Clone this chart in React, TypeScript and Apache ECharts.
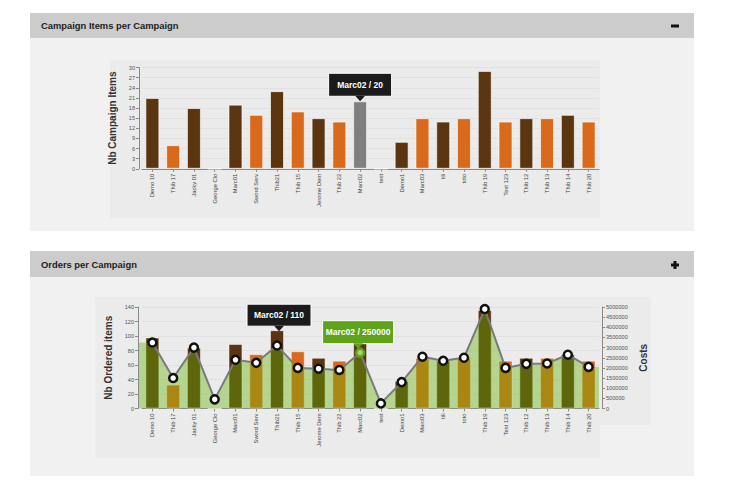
import React, { useEffect, useRef } from "react";
import * as echarts from "echarts";

const categories = [
  "Demo 10", "Thib 17", "Jacky 01", "George Clo", "Marc01", "Sword Serv", "Thib21",
  "Thib 15", "Jerome Dem", "Thib 22", "Marc02", "test", "Demo1", "Marc03", "tili",
  "toto", "Thib 19", "Test 123", "Thib 12", "Thib 13", "Thib 14", "Thib 20",
];
const campaignItems = [21, 7, 18, 0, 19, 16, 23, 17, 15, 14, 20, 0, 8, 15, 14, 15, 29, 14, 15, 15, 16, 14];
const orderedItems = [98, 33, 84, 0, 89, 75, 108, 79, 70, 66, 110, 0, 38, 70, 66, 70, 136, 66, 70, 70, 75, 66];
const costs = [
  3250000, 1500000, 3000000, 450000, 2400000, 2250000, 3100000, 2000000, 1960000, 1900000,
  2750000, 250000, 1300000, 2550000, 2350000, 2500000, 4900000, 2000000, 2200000, 2220000,
  2650000, 2050000,
];
const itemsAxis = { min: 0, max: 30, interval: 3 };
const ordersAxis = { min: 0, max: 140, interval: 20 };
const costsAxis = { min: 0, max: 5000000, interval: 500000 };
const panelTitles = ["Campaign Items per Campaign", "Orders per Campaign"];
const axisNames = ["Nb Campaign Items", "Nb Ordered items", "Costs"];
const highlighted = "Marc02";
const tooltipTop = "Marc02 / 20";
const tooltipOrders = "Marc02 / 110";
const tooltipOrdersAnchor = "Thib21";
const tooltipCost = "Marc02 / 250000";

const DARK = "#5b3510";
const ORANGE = "#d96a1b";
const FONT = "'Liberation Sans', Arial, Helvetica, sans-serif";

function barColor(i: number) {
  return i % 2 === 0 ? DARK : ORANGE;
}

const axisLine = { show: true, lineStyle: { color: "#8a8a8a", width: 1 } };
const xLabel = { rotate: 90, fontSize: 5.8, color: "#444", fontFamily: FONT, margin: 5, interval: 0 };
const yLabel = { fontSize: 5.6, color: "#555", fontFamily: FONT, margin: 4, formatter: (v: number) => String(v) };
const nameStyle = { fontSize: 10, fontWeight: "bold" as const, color: "#333", fontFamily: FONT };
const split = { show: true, lineStyle: { color: "#e1e1e1", width: 1 } };

// area under the cost line, held flat out to the plot's edges
const areaHalfBand = 0.5;
const areaLeftPad = 0.645;
const areaData: number[][] = [
  [-areaLeftPad, costs[0]],
  ...costs.map((v, i) => [i, v]),
  [costs.length - 1 + areaHalfBand, costs[costs.length - 1]],
];

function tooltipGroup(cx: number, tipY: number, w: number, h: number, fill: string, text: string) {
  const bottom = tipY - 5;
  const top = bottom - h;
  return {
    type: "group",
    z: 100,
    children: [
      {
        type: "rect",
        z: 100,
        shape: { x: cx - w / 2, y: top, width: w, height: h },
        style: { fill, stroke: "#ffffff", lineWidth: 1 },
      },
      {
        type: "polygon",
        z: 101,
        shape: { points: [[cx - 5, bottom - 0.5], [cx + 5, bottom - 0.5], [cx, tipY]] },
        style: { fill },
      },
      {
        type: "text",
        z: 102,
        x: cx,
        y: top + h / 2,
        style: {
          text,
          fill: "#ffffff",
          fontSize: 8.5,
          fontWeight: "bold",
          fontFamily: FONT,
          align: "center",
          verticalAlign: "middle",
        },
      },
    ],
  };
}

export default function App() {
  const ref = useRef<HTMLDivElement>(null);

  useEffect(() => {
    document.body.style.margin = "0";
    if (!ref.current) return;
    const chart = echarts.init(ref.current, null, { renderer: "svg" });

    const backgrounds: any[] = [
      { type: "rect", z: -10, shape: { x: 30, y: 13, width: 664, height: 25 }, style: { fill: "#cccccc" } },
      { type: "rect", z: -10, shape: { x: 30, y: 38, width: 664, height: 193 }, style: { fill: "#f1f1f1" } },
      { type: "rect", z: -9, shape: { x: 110, y: 60, width: 490, height: 158 }, style: { fill: "#ebebeb" } },
      { type: "rect", z: -10, shape: { x: 30, y: 251, width: 664, height: 26 }, style: { fill: "#cccccc" } },
      { type: "rect", z: -10, shape: { x: 30, y: 277, width: 664, height: 199 }, style: { fill: "#f1f1f1" } },
      { type: "rect", z: -9, shape: { x: 95, y: 297, width: 505, height: 161 }, style: { fill: "#ebebeb" } },
      { type: "rect", z: -9, shape: { x: 598, y: 297, width: 53, height: 128 }, style: { fill: "#ebebeb" } },
      {
        type: "text", z: 5, x: 41, y: 25.5,
        style: { text: panelTitles[0], fill: "#222", fontSize: 9.4, fontWeight: "bold", fontFamily: FONT, verticalAlign: "middle" },
      },
      {
        type: "text", z: 5, x: 41, y: 264.5,
        style: { text: panelTitles[1], fill: "#222", fontSize: 9.4, fontWeight: "bold", fontFamily: FONT, verticalAlign: "middle" },
      },
      { type: "rect", z: 5, shape: { x: 671, y: 24.5, width: 8, height: 3 }, style: { fill: "#111" } },
      { type: "rect", z: 5, shape: { x: 671, y: 263.5, width: 8, height: 3 }, style: { fill: "#111" } },
      { type: "rect", z: 5, shape: { x: 673.5, y: 261, width: 3, height: 8 }, style: { fill: "#111" } },
    ];

    const option: any = {
      animation: false,
      backgroundColor: "transparent",
      textStyle: { fontFamily: FONT },
      grid: [
        { left: 142, right: 131, top: 67.5, height: 101.3 },
        { left: 142, right: 131, top: 307, height: 101.5 },
        { left: 139, right: 131, top: 307, height: 101.5 },
      ],
      xAxis: [
        {
          type: "category", gridIndex: 0, data: categories, boundaryGap: true,
          axisLine, axisTick: { show: true, alignWithLabel: true, length: 3, lineStyle: { color: "#8a8a8a" } },
          axisLabel: xLabel,
        },
        {
          type: "category", gridIndex: 1, data: categories, boundaryGap: true,
          axisLine, axisTick: { show: true, alignWithLabel: true, length: 3, lineStyle: { color: "#8a8a8a" } },
          axisLabel: xLabel,
        },
        {
          type: "value", gridIndex: 2, show: false,
          min: -areaLeftPad, max: costs.length - 1 + areaHalfBand,
          splitLine: { show: false },
        },
      ],
      yAxis: [
        {
          type: "value", gridIndex: 0, ...itemsAxis, offset: 3,
          axisLine, axisTick: { show: true, length: 3, lineStyle: { color: "#8a8a8a" } },
          axisLabel: yLabel, splitLine: split,
          name: axisNames[0], nameLocation: "middle", nameGap: 19, nameRotate: 90, nameTextStyle: nameStyle,
        },
        {
          type: "value", gridIndex: 1, ...ordersAxis, offset: 4,
          axisLine, axisTick: { show: true, length: 3, lineStyle: { color: "#8a8a8a" } },
          axisLabel: yLabel, splitLine: split,
          name: axisNames[1], nameLocation: "middle", nameGap: 22, nameRotate: 90, nameTextStyle: nameStyle,
        },
        {
          type: "value", gridIndex: 1, position: "right", ...costsAxis, offset: 3,
          axisLine, axisTick: { show: true, length: 3, lineStyle: { color: "#8a8a8a" } },
          axisLabel: yLabel, splitLine: { show: false },
          name: axisNames[2], nameLocation: "middle", nameGap: 30, nameRotate: 90, nameTextStyle: nameStyle,
        },
        { type: "value", gridIndex: 2, ...costsAxis, show: false, splitLine: { show: false } },
      ],
      series: [
        {
          type: "bar", xAxisIndex: 0, yAxisIndex: 0, barWidth: 14, z: 2,
          itemStyle: { borderColor: "rgba(255,255,255,0.65)", borderWidth: 1 },
          data: campaignItems.map((v, i) => ({
            value: v,
            itemStyle: { color: categories[i] === highlighted ? "#7f7f7f" : barColor(i) },
          })),
        },
        {
          type: "bar", xAxisIndex: 1, yAxisIndex: 1, barWidth: 14, z: 2,
          itemStyle: { borderColor: "rgba(255,255,255,0.5)", borderWidth: 1 },
          data: orderedItems.map((v, i) => ({ value: v, itemStyle: { color: barColor(i) } })),
        },
        {
          type: "line", xAxisIndex: 2, yAxisIndex: 3, z: 3, symbol: "none",
          lineStyle: { width: 0 },
          areaStyle: { color: "rgba(100,178,8,0.4)", opacity: 1 },
          data: areaData,
        },
        {
          type: "line", xAxisIndex: 1, yAxisIndex: 2, z: 4,
          symbol: "circle", symbolSize: 8,
          lineStyle: { color: "#7a7a7a", width: 2 },
          itemStyle: { color: "#ffffff", borderColor: "#111111", borderWidth: 2.5 },
          data: costs.map((v, i) =>
            categories[i] === highlighted
              ? { value: v, itemStyle: { color: "#a6d46a", borderColor: "#5f9e1e", borderWidth: 2.5 } }
              : v
          ),
        },
      ],
      graphic: backgrounds,
    };

    chart.setOption(option);

    const hi = categories.indexOf(highlighted);
    const anchorIdx = categories.indexOf(tooltipOrdersAnchor);
    const p1 = chart.convertToPixel({ xAxisIndex: 0, yAxisIndex: 0 } as any, [hi, campaignItems[hi]]) as number[];
    const p2 = chart.convertToPixel({ xAxisIndex: 1, yAxisIndex: 1 } as any, [anchorIdx, orderedItems[anchorIdx]]) as number[];
    const p3 = chart.convertToPixel({ xAxisIndex: 1, yAxisIndex: 2 } as any, [hi, costs[hi]]) as number[];

    chart.setOption({
      graphic: [
        ...backgrounds,
        tooltipGroup(p1[0], p1[1], 63, 23, "#1b1b1b", tooltipTop),
        tooltipGroup(p2[0] + 2, p2[1] + 1, 64, 22, "#1b1b1b", tooltipOrders),
        tooltipGroup(p3[0] - 2, p3[1] - 4, 71, 23, "#5fa31b", tooltipCost),
      ],
    });

    return () => chart.dispose();
  }, []);

  return <div ref={ref} style={{ width: 730, height: 490 }} />;
}
